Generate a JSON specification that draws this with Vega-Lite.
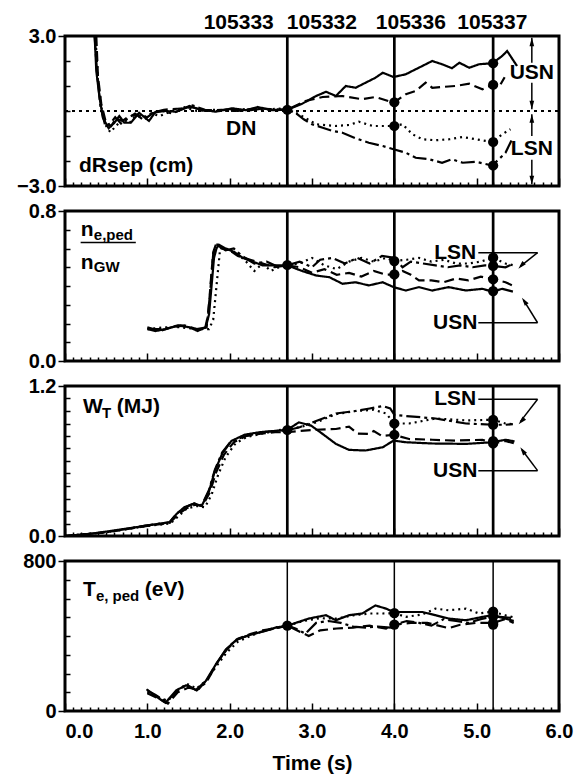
{
"$schema":"https://vega.github.io/schema/vega-lite/v6.json",
"padding":{"left":15,"top":9,"right":5,"bottom":5},
"background":"white",
"config":{"view":{"stroke":"black","strokeWidth":3},"font":"Liberation Sans",
"axis":{"labelFont":"Liberation Sans","labelFontWeight":"bold","labelFontSize":20,"labelColor":"black","tickColor":"black","tickWidth":1.5,"domain":false,"grid":false,"titleFont":"Liberation Sans","titleFontWeight":"bold","titleFontSize":21,"titleColor":"black","labelOverlap":false,"labelBound":false,"labelFlush":false}},
"bounds":"flush","spacing":25,
"vconcat":[
{"width":494,"height":150,
"encoding":{"x":{"field":"t","type":"quantitative","scale":{"domain":[0,6],"nice":false},"axis":{"values":[0,0.1,0.2,0.3,0.4,0.5,0.6,0.7,0.8,0.9,1,1.1,1.2,1.3,1.4,1.5,1.6,1.7,1.8,1.9,2,2.1,2.2,2.3,2.4,2.5,2.6,2.7,2.8,2.9,3,3.1,3.2,3.3,3.4,3.5,3.6,3.7,3.8,3.9,4,4.1,4.2,4.3,4.4,4.5,4.6,4.7,4.8,4.9,5,5.1,5.2,5.3,5.4,5.5,5.6,5.7,5.8,5.9,6],"labels":false,"title":null,"tickSize":{"condition":{"test":"abs(datum.value-round(datum.value))<0.01","value":-8},"value":-4}}},
"y":{"field":"v","type":"quantitative","scale":{"domain":[-3,3],"nice":false},"axis":{"values":[-3,-2,-1,0,1,2,3],"title":null,"labelPadding":2,"labelExpr":"datum.value==3?'3.0':datum.value==-3?'−3.0':''","tickSize":{"condition":{"test":"abs(datum.value)>2.99","value":7},"value":-5}}}},
"layer":[
{"data":{"values":[{"t":0,"v":0,"t2":6}]},"mark":{"type":"rule","strokeWidth":2,"strokeDash":[3,4],"color":"black"},"encoding":{"x2":{"field":"t2"}}},
{"data":{"values":[
{"s":"A","t":0.36,"v":3.0},{"s":"A","t":0.38,"v":1.6},{"s":"A","t":0.42,"v":0.53},{"s":"A","t":0.46,"v":-0.27},{"s":"A","t":0.53,"v":-0.69},{"s":"A","t":0.60,"v":-0.47},{"s":"A","t":0.66,"v":-0.2},{"s":"A","t":0.72,"v":-0.47},{"s":"A","t":0.80,"v":-0.47},{"s":"A","t":0.90,"v":-0.07},{"s":"A","t":1.02,"v":-0.4},{"s":"A","t":1.10,"v":-0.03},{"s":"A","t":1.22,"v":0.0},{"s":"A","t":1.35,"v":-0.03},{"s":"A","t":1.51,"v":0.2},{"s":"A","t":1.63,"v":0.07},{"s":"A","t":1.83,"v":-0.03},{"s":"A","t":2.03,"v":0.11},{"s":"A","t":2.2,"v":0.03},{"s":"A","t":2.34,"v":0.16},{"s":"A","t":2.52,"v":0.03},{"s":"A","t":2.7,"v":0.05},{"s":"A","t":2.88,"v":0.29},{"s":"A","t":3.05,"v":0.6},{"s":"A","t":3.17,"v":0.77},{"s":"A","t":3.29,"v":0.6},{"s":"A","t":3.41,"v":1.0},{"s":"A","t":3.53,"v":0.93},{"s":"A","t":3.65,"v":1.13},{"s":"A","t":3.77,"v":1.33},{"s":"A","t":3.86,"v":1.53},{"s":"A","t":3.99,"v":1.36},{"s":"A","t":4.14,"v":1.47},{"s":"A","t":4.26,"v":1.67},{"s":"A","t":4.34,"v":1.8},{"s":"A","t":4.46,"v":2.0},{"s":"A","t":4.58,"v":1.87},{"s":"A","t":4.70,"v":1.71},{"s":"A","t":4.79,"v":1.93},{"s":"A","t":4.91,"v":1.73},{"s":"A","t":5.03,"v":1.87},{"s":"A","t":5.19,"v":1.91},{"s":"A","t":5.31,"v":2.2},{"s":"A","t":5.37,"v":2.4},{"s":"A","t":5.45,"v":2.0},{"s":"A","t":5.49,"v":1.8},
{"s":"B","t":0.38,"v":3.0},{"s":"B","t":0.40,"v":1.4},{"s":"B","t":0.44,"v":0.3},{"s":"B","t":0.50,"v":-0.5},{"s":"B","t":0.56,"v":-0.6},{"s":"B","t":0.62,"v":-0.3},{"s":"B","t":0.70,"v":-0.4},{"s":"B","t":0.78,"v":-0.2},{"s":"B","t":0.88,"v":-0.15},{"s":"B","t":0.98,"v":-0.3},{"s":"B","t":1.08,"v":-0.05},{"s":"B","t":1.2,"v":0.05},{"s":"B","t":1.4,"v":0.1},{"s":"B","t":1.55,"v":0.15},{"s":"B","t":1.7,"v":0.0},{"s":"B","t":1.9,"v":0.05},{"s":"B","t":2.1,"v":0.0},{"s":"B","t":2.3,"v":0.1},{"s":"B","t":2.5,"v":0.08},{"s":"B","t":2.7,"v":0.05},{"s":"B","t":2.92,"v":0.4},{"s":"B","t":3.13,"v":0.56},{"s":"B","t":3.37,"v":0.6},{"s":"B","t":3.61,"v":0.47},{"s":"B","t":3.77,"v":0.56},{"s":"B","t":3.99,"v":0.33},{"s":"B","t":4.14,"v":0.67},{"s":"B","t":4.26,"v":0.8},{"s":"B","t":4.38,"v":1.13},{"s":"B","t":4.46,"v":0.93},{"s":"B","t":4.58,"v":0.96},{"s":"B","t":4.74,"v":1.0},{"s":"B","t":4.91,"v":1.09},{"s":"B","t":5.07,"v":0.87},{"s":"B","t":5.19,"v":1.05},{"s":"B","t":5.27,"v":0.95},{"s":"B","t":5.34,"v":1.35},
{"s":"C","t":0.37,"v":3.0},{"s":"C","t":0.40,"v":1.2},{"s":"C","t":0.45,"v":0.0},{"s":"C","t":0.50,"v":-0.6},{"s":"C","t":0.55,"v":-0.85},{"s":"C","t":0.62,"v":-0.6},{"s":"C","t":0.70,"v":-0.3},{"s":"C","t":0.78,"v":-0.5},{"s":"C","t":0.85,"v":-0.2},{"s":"C","t":0.95,"v":-0.25},{"s":"C","t":1.05,"v":-0.1},{"s":"C","t":1.15,"v":-0.2},{"s":"C","t":1.3,"v":0.0},{"s":"C","t":1.45,"v":0.15},{"s":"C","t":1.6,"v":0.0},{"s":"C","t":1.8,"v":0.05},{"s":"C","t":2.0,"v":0.0},{"s":"C","t":2.2,"v":0.08},{"s":"C","t":2.4,"v":0.05},{"s":"C","t":2.6,"v":0.1},{"s":"C","t":2.7,"v":0.05},{"s":"C","t":2.84,"v":-0.13},{"s":"C","t":3.05,"v":-0.53},{"s":"C","t":3.29,"v":-0.6},{"s":"C","t":3.45,"v":-0.56},{"s":"C","t":3.57,"v":-0.43},{"s":"C","t":3.74,"v":-0.6},{"s":"C","t":3.9,"v":-0.6},{"s":"C","t":4.0,"v":-0.6},{"s":"C","t":4.10,"v":-0.53},{"s":"C","t":4.22,"v":-0.93},{"s":"C","t":4.34,"v":-1.13},{"s":"C","t":4.5,"v":-1.17},{"s":"C","t":4.67,"v":-1.13},{"s":"C","t":4.83,"v":-1.04},{"s":"C","t":4.99,"v":-1.13},{"s":"C","t":5.19,"v":-1.24},{"s":"C","t":5.31,"v":-0.93},{"s":"C","t":5.41,"v":-0.73},
{"s":"D","t":0.36,"v":3.0},{"s":"D","t":0.39,"v":1.5},{"s":"D","t":0.43,"v":0.2},{"s":"D","t":0.49,"v":-0.6},{"s":"D","t":0.55,"v":-0.5},{"s":"D","t":0.61,"v":-0.25},{"s":"D","t":0.68,"v":-0.5},{"s":"D","t":0.76,"v":-0.3},{"s":"D","t":0.85,"v":-0.1},{"s":"D","t":0.95,"v":-0.35},{"s":"D","t":1.05,"v":-0.1},{"s":"D","t":1.18,"v":0.0},{"s":"D","t":1.3,"v":-0.1},{"s":"D","t":1.45,"v":0.1},{"s":"D","t":1.55,"v":0.22},{"s":"D","t":1.7,"v":0.05},{"s":"D","t":1.85,"v":0.0},{"s":"D","t":2.0,"v":0.08},{"s":"D","t":2.2,"v":0.0},{"s":"D","t":2.4,"v":0.1},{"s":"D","t":2.55,"v":0.05},{"s":"D","t":2.7,"v":0.05},{"s":"D","t":2.80,"v":-0.07},{"s":"D","t":2.9,"v":-0.33},{"s":"D","t":3.0,"v":-0.53},{"s":"D","t":3.13,"v":-0.67},{"s":"D","t":3.25,"v":-0.8},{"s":"D","t":3.37,"v":-0.87},{"s":"D","t":3.53,"v":-1.09},{"s":"D","t":3.69,"v":-1.27},{"s":"D","t":3.86,"v":-1.4},{"s":"D","t":3.99,"v":-1.53},{"s":"D","t":4.14,"v":-1.67},{"s":"D","t":4.26,"v":-1.87},{"s":"D","t":4.42,"v":-1.93},{"s":"D","t":4.58,"v":-2.07},{"s":"D","t":4.70,"v":-1.93},{"s":"D","t":4.83,"v":-2.07},{"s":"D","t":4.99,"v":-2.03},{"s":"D","t":5.19,"v":-2.18},{"s":"D","t":5.31,"v":-1.8},{"s":"D","t":5.35,"v":-1.67},{"s":"D","t":5.43,"v":-1.13}
]},"mark":{"type":"line","strokeWidth":2.2,"color":"black"},"encoding":{"strokeDash":{"field":"s","type":"nominal","scale":{"domain":["A","B","C","D"],"range":[[1,0],[10,5],[2,4],[14,4,3,4]]},"legend":null}}},
{"data":{"values":[{"t":2.7,"v":-3,"v2":3},{"t":4.0,"v":-3,"v2":3},{"t":5.2,"v":-3,"v2":3}]},"mark":{"type":"rule","strokeWidth":2.7,"color":"black"},"encoding":{"y2":{"field":"v2"}}},
{"data":{"values":[{"t":2.7,"v":0.05},{"t":4.0,"v":0.35},{"t":4.0,"v":-0.6},{"t":5.2,"v":1.91},{"t":5.2,"v":1.05},{"t":5.2,"v":-1.24},{"t":5.2,"v":-2.18}]},"mark":{"type":"point","filled":true,"size":105,"color":"black","opacity":1}},
{"data":{"values":[{"t":5.67,"v":2.93,"t2":5.67,"v2":1.93},{"t":5.67,"v":1.13,"t2":5.67,"v2":0.07},{"t":5.67,"v":-0.13,"t2":5.67,"v2":-1.0},{"t":5.67,"v":-1.95,"t2":5.67,"v2":-2.93}]},"mark":{"type":"rule","strokeWidth":1.5,"color":"black"},"encoding":{"x2":{"field":"t2"},"y2":{"field":"v2"}}},
{"data":{"values":[{"t":5.67,"v":2.72,"dir":"up"},{"t":5.67,"v":0.28,"dir":"down"},{"t":5.67,"v":-0.34,"dir":"up"},{"t":5.67,"v":-2.72,"dir":"down"}]},"mark":{"type":"point","filled":true,"size":110,"color":"black","opacity":1},"encoding":{"shape":{"field":"dir","type":"nominal","scale":{"domain":["up","down","dl","ul"],"range":["M0,-1L0.45,0.6L-0.45,0.6Z","M0,1L0.45,-0.6L-0.45,-0.6Z","M-0.68,0.73L0.08,-0.75L0.74,-0.13Z","M-0.57,-0.82L0.71,0.24L-0.03,0.75Z"]},"legend":null}}},
{"data":{"values":[{"label":"105333","t":2.11,"v":3.54},{"label":"105332","t":3.12,"v":3.54},{"label":"105336","t":4.2,"v":3.54},{"label":"105337","t":5.19,"v":3.54},{"label":"DN","t":2.14,"v":-0.72},{"label":"USN","t":5.67,"v":1.53},{"label":"LSN","t":5.67,"v":-1.5}]},"mark":{"type":"text","align":"center","baseline":"middle","fontSize":21,"fontWeight":"bold","font":"Liberation Sans","color":"black"},"encoding":{"text":{"field":"label"}}},
{"data":{"values":[{"label":"dRsep (cm)","t":0.17,"v":-2.44}]},"mark":{"type":"text","align":"left","baseline":"alphabetic","fontSize":21,"fontWeight":"bold","font":"Liberation Sans","color":"black"},"encoding":{"text":{"field":"label"}}}
]},
{"width":494,"height":150,
"encoding":{"x":{"field":"t","type":"quantitative","scale":{"domain":[0,6],"nice":false},"axis":{"values":[0,0.1,0.2,0.3,0.4,0.5,0.6,0.7,0.8,0.9,1,1.1,1.2,1.3,1.4,1.5,1.6,1.7,1.8,1.9,2,2.1,2.2,2.3,2.4,2.5,2.6,2.7,2.8,2.9,3,3.1,3.2,3.3,3.4,3.5,3.6,3.7,3.8,3.9,4,4.1,4.2,4.3,4.4,4.5,4.6,4.7,4.8,4.9,5,5.1,5.2,5.3,5.4,5.5,5.6,5.7,5.8,5.9,6],"labels":false,"title":null,"tickSize":{"condition":{"test":"abs(datum.value-round(datum.value))<0.01","value":-8},"value":-4}}},
"y":{"field":"v","type":"quantitative","scale":{"domain":[0,0.8],"nice":false},"axis":{"values":[0,0.1,0.2,0.3,0.4,0.5,0.6,0.7,0.8],"title":null,"labelPadding":2,"labelExpr":"datum.value>0.79?'0.8':datum.value<0.01?'0.0':''","tickSize":{"condition":{"test":"datum.value>0.79||datum.value<0.01","value":7},"value":-5}}}},
"layer":[
{"data":{"values":[
{"s":"A","t":1.01,"v":0.17},{"s":"A","t":1.10,"v":0.16},{"s":"A","t":1.22,"v":0.17},{"s":"A","t":1.37,"v":0.19},{"s":"A","t":1.51,"v":0.18},{"s":"A","t":1.61,"v":0.16},{"s":"A","t":1.71,"v":0.18},{"s":"A","t":1.75,"v":0.25},{"s":"A","t":1.78,"v":0.40},{"s":"A","t":1.81,"v":0.55},{"s":"A","t":1.84,"v":0.60},{"s":"A","t":1.87,"v":0.62},{"s":"A","t":1.95,"v":0.60},{"s":"A","t":2.06,"v":0.58},{"s":"A","t":2.16,"v":0.55},{"s":"A","t":2.28,"v":0.53},{"s":"A","t":2.40,"v":0.51},{"s":"A","t":2.52,"v":0.51},{"s":"A","t":2.70,"v":0.51},{"s":"A","t":2.88,"v":0.48},{"s":"A","t":3.05,"v":0.456},{"s":"A","t":3.21,"v":0.447},{"s":"A","t":3.37,"v":0.412},{"s":"A","t":3.53,"v":0.42},{"s":"A","t":3.69,"v":0.403},{"s":"A","t":3.86,"v":0.42},{"s":"A","t":3.99,"v":0.394},{"s":"A","t":4.14,"v":0.376},{"s":"A","t":4.30,"v":0.394},{"s":"A","t":4.46,"v":0.376},{"s":"A","t":4.66,"v":0.394},{"s":"A","t":4.87,"v":0.376},{"s":"A","t":5.07,"v":0.385},{"s":"A","t":5.19,"v":0.37},{"s":"A","t":5.31,"v":0.385},{"s":"A","t":5.44,"v":0.37},
{"s":"B","t":1.0,"v":0.18},{"s":"B","t":1.15,"v":0.16},{"s":"B","t":1.3,"v":0.18},{"s":"B","t":1.45,"v":0.19},{"s":"B","t":1.6,"v":0.17},{"s":"B","t":1.7,"v":0.17},{"s":"B","t":1.74,"v":0.25},{"s":"B","t":1.77,"v":0.42},{"s":"B","t":1.80,"v":0.58},{"s":"B","t":1.84,"v":0.63},{"s":"B","t":1.9,"v":0.60},{"s":"B","t":2.0,"v":0.59},{"s":"B","t":2.1,"v":0.56},{"s":"B","t":2.25,"v":0.54},{"s":"B","t":2.4,"v":0.52},{"s":"B","t":2.55,"v":0.50},{"s":"B","t":2.7,"v":0.51},{"s":"B","t":2.85,"v":0.50},{"s":"B","t":3.0,"v":0.47},{"s":"B","t":3.15,"v":0.49},{"s":"B","t":3.3,"v":0.46},{"s":"B","t":3.45,"v":0.47},{"s":"B","t":3.6,"v":0.45},{"s":"B","t":3.75,"v":0.48},{"s":"B","t":3.9,"v":0.46},{"s":"B","t":4.0,"v":0.462},{"s":"B","t":4.1,"v":0.48},{"s":"B","t":4.2,"v":0.46},{"s":"B","t":4.3,"v":0.43},{"s":"B","t":4.45,"v":0.43},{"s":"B","t":4.6,"v":0.42},{"s":"B","t":4.75,"v":0.44},{"s":"B","t":4.9,"v":0.43},{"s":"B","t":5.05,"v":0.45},{"s":"B","t":5.2,"v":0.436},{"s":"B","t":5.35,"v":0.42},{"s":"B","t":5.45,"v":0.40},
{"s":"C","t":1.0,"v":0.17},{"s":"C","t":1.2,"v":0.18},{"s":"C","t":1.4,"v":0.18},{"s":"C","t":1.6,"v":0.17},{"s":"C","t":1.75,"v":0.17},{"s":"C","t":1.80,"v":0.22},{"s":"C","t":1.84,"v":0.40},{"s":"C","t":1.88,"v":0.58},{"s":"C","t":1.92,"v":0.61},{"s":"C","t":2.0,"v":0.59},{"s":"C","t":2.1,"v":0.57},{"s":"C","t":2.2,"v":0.53},{"s":"C","t":2.3,"v":0.48},{"s":"C","t":2.4,"v":0.52},{"s":"C","t":2.5,"v":0.48},{"s":"C","t":2.6,"v":0.50},{"s":"C","t":2.7,"v":0.51},{"s":"C","t":2.85,"v":0.52},{"s":"C","t":3.0,"v":0.55},{"s":"C","t":3.15,"v":0.51},{"s":"C","t":3.3,"v":0.49},{"s":"C","t":3.45,"v":0.53},{"s":"C","t":3.6,"v":0.55},{"s":"C","t":3.75,"v":0.53},{"s":"C","t":3.9,"v":0.55},{"s":"C","t":4.0,"v":0.533},{"s":"C","t":4.15,"v":0.54},{"s":"C","t":4.3,"v":0.55},{"s":"C","t":4.45,"v":0.53},{"s":"C","t":4.6,"v":0.54},{"s":"C","t":4.75,"v":0.52},{"s":"C","t":4.9,"v":0.52},{"s":"C","t":5.05,"v":0.53},{"s":"C","t":5.2,"v":0.551},{"s":"C","t":5.35,"v":0.52},{"s":"C","t":5.45,"v":0.51},
{"s":"D","t":1.0,"v":0.17},{"s":"D","t":1.2,"v":0.17},{"s":"D","t":1.4,"v":0.19},{"s":"D","t":1.6,"v":0.17},{"s":"D","t":1.72,"v":0.18},{"s":"D","t":1.76,"v":0.35},{"s":"D","t":1.80,"v":0.57},{"s":"D","t":1.85,"v":0.62},{"s":"D","t":1.95,"v":0.59},{"s":"D","t":2.05,"v":0.60},{"s":"D","t":2.15,"v":0.56},{"s":"D","t":2.3,"v":0.52},{"s":"D","t":2.45,"v":0.53},{"s":"D","t":2.6,"v":0.50},{"s":"D","t":2.7,"v":0.51},{"s":"D","t":2.85,"v":0.53},{"s":"D","t":3.0,"v":0.50},{"s":"D","t":3.1,"v":0.54},{"s":"D","t":3.25,"v":0.55},{"s":"D","t":3.4,"v":0.52},{"s":"D","t":3.55,"v":0.55},{"s":"D","t":3.7,"v":0.52},{"s":"D","t":3.85,"v":0.56},{"s":"D","t":4.0,"v":0.55},{"s":"D","t":4.1,"v":0.50},{"s":"D","t":4.2,"v":0.53},{"s":"D","t":4.35,"v":0.52},{"s":"D","t":4.5,"v":0.51},{"s":"D","t":4.65,"v":0.50},{"s":"D","t":4.8,"v":0.51},{"s":"D","t":4.95,"v":0.50},{"s":"D","t":5.1,"v":0.51},{"s":"D","t":5.2,"v":0.507},{"s":"D","t":5.35,"v":0.50},{"s":"D","t":5.45,"v":0.52}
]},"mark":{"type":"line","strokeWidth":2.2,"color":"black"},"encoding":{"strokeDash":{"field":"s","type":"nominal","scale":{"domain":["A","B","C","D"],"range":[[1,0],[10,5],[2,4],[14,4,3,4]]},"legend":null}}},
{"data":{"values":[{"t":2.7,"v":0,"v2":0.8},{"t":4.0,"v":0,"v2":0.8},{"t":5.2,"v":0,"v2":0.8}]},"mark":{"type":"rule","strokeWidth":2.7,"color":"black"},"encoding":{"y2":{"field":"v2"}}},
{"data":{"values":[{"t":2.7,"v":0.512},{"t":4.0,"v":0.533},{"t":4.0,"v":0.462},{"t":5.2,"v":0.551},{"t":5.2,"v":0.507},{"t":5.2,"v":0.436},{"t":5.2,"v":0.373}]},"mark":{"type":"point","filled":true,"size":105,"color":"black","opacity":1}},
{"data":{"values":[{"t":5.02,"v":0.578,"t2":5.74,"v2":0.578},{"t":5.74,"v":0.578,"t2":5.53,"v2":0.505},{"t":5.02,"v":0.204,"t2":5.74,"v2":0.204},{"t":5.74,"v":0.204,"t2":5.57,"v2":0.325},{"t":0.19,"v":0.632,"t2":0.86,"v2":0.632}]},"mark":{"type":"rule","strokeWidth":1.5,"color":"black"},"encoding":{"x2":{"field":"t2"},"y2":{"field":"v2"}}},
{"data":{"values":[{"t":5.55,"v":0.512,"dir":"dl"},{"t":5.586,"v":0.315,"dir":"ul"}]},"mark":{"type":"point","filled":true,"size":110,"color":"black","opacity":1},"encoding":{"shape":{"field":"dir","type":"nominal","scale":{"domain":["up","down","dl","ul"],"range":["M0,-1L0.45,0.6L-0.45,0.6Z","M0,1L0.45,-0.6L-0.45,-0.6Z","M-0.68,0.73L0.08,-0.75L0.74,-0.13Z","M-0.57,-0.82L0.71,0.24L-0.03,0.75Z"]},"legend":null}}},
{"data":{"values":[{"label":"LSN","t":4.74,"v":0.578},{"label":"USN","t":4.74,"v":0.204}]},"mark":{"type":"text","align":"center","baseline":"middle","fontSize":21,"fontWeight":"bold","font":"Liberation Sans","color":"black"},"encoding":{"text":{"field":"label"}}},
{"data":{"values":[{"label":"n","t":0.19,"v":0.665},{"label":"n","t":0.19,"v":0.49}]},"mark":{"type":"text","align":"left","baseline":"alphabetic","fontSize":21,"fontWeight":"bold","font":"Liberation Sans","color":"black"},"encoding":{"text":{"field":"label"}}},
{"data":{"values":[{"label":"e,ped","t":0.35,"v":0.648},{"label":"GW","t":0.35,"v":0.475}]},"mark":{"type":"text","align":"left","baseline":"alphabetic","fontSize":15,"fontWeight":"bold","font":"Liberation Sans","color":"black"},"encoding":{"text":{"field":"label"}}}
]},
{"width":494,"height":150,
"encoding":{"x":{"field":"t","type":"quantitative","scale":{"domain":[0,6],"nice":false},"axis":{"values":[0,0.1,0.2,0.3,0.4,0.5,0.6,0.7,0.8,0.9,1,1.1,1.2,1.3,1.4,1.5,1.6,1.7,1.8,1.9,2,2.1,2.2,2.3,2.4,2.5,2.6,2.7,2.8,2.9,3,3.1,3.2,3.3,3.4,3.5,3.6,3.7,3.8,3.9,4,4.1,4.2,4.3,4.4,4.5,4.6,4.7,4.8,4.9,5,5.1,5.2,5.3,5.4,5.5,5.6,5.7,5.8,5.9,6],"labels":false,"title":null,"tickSize":{"condition":{"test":"abs(datum.value-round(datum.value))<0.01","value":-8},"value":-4}}},
"y":{"field":"v","type":"quantitative","scale":{"domain":[0,1.2],"nice":false},"axis":{"values":[0,0.1,0.2,0.3,0.4,0.5,0.6,0.7,0.8,0.9,1.0,1.1,1.2],"title":null,"labelPadding":2,"labelExpr":"datum.value>1.19?'1.2':datum.value<0.01?'0.0':''","tickSize":{"condition":{"test":"datum.value>1.19||datum.value<0.01","value":7},"value":-5}}}},
"layer":[
{"data":{"values":[
{"s":"A","t":0.0,"v":0.0},{"s":"A","t":0.33,"v":0.019},{"s":"A","t":0.55,"v":0.04},{"s":"A","t":0.82,"v":0.066},{"s":"A","t":1.0,"v":0.085},{"s":"A","t":1.27,"v":0.11},{"s":"A","t":1.36,"v":0.18},{"s":"A","t":1.45,"v":0.23},{"s":"A","t":1.57,"v":0.26},{"s":"A","t":1.66,"v":0.24},{"s":"A","t":1.75,"v":0.36},{"s":"A","t":1.82,"v":0.52},{"s":"A","t":1.91,"v":0.66},{"s":"A","t":2.02,"v":0.76},{"s":"A","t":2.18,"v":0.81},{"s":"A","t":2.36,"v":0.83},{"s":"A","t":2.54,"v":0.84},{"s":"A","t":2.70,"v":0.85},{"s":"A","t":2.84,"v":0.909},{"s":"A","t":2.99,"v":0.883},{"s":"A","t":3.13,"v":0.816},{"s":"A","t":3.29,"v":0.737},{"s":"A","t":3.45,"v":0.689},{"s":"A","t":3.65,"v":0.684},{"s":"A","t":3.86,"v":0.71},{"s":"A","t":3.99,"v":0.763},{"s":"A","t":4.14,"v":0.75},{"s":"A","t":4.46,"v":0.74},{"s":"A","t":4.87,"v":0.737},{"s":"A","t":5.19,"v":0.75},{"s":"A","t":5.35,"v":0.77},{"s":"A","t":5.46,"v":0.757},
{"s":"B","t":0.0,"v":0.0},{"s":"B","t":0.5,"v":0.03},{"s":"B","t":1.0,"v":0.08},{"s":"B","t":1.27,"v":0.105},{"s":"B","t":1.37,"v":0.17},{"s":"B","t":1.47,"v":0.22},{"s":"B","t":1.58,"v":0.25},{"s":"B","t":1.67,"v":0.24},{"s":"B","t":1.76,"v":0.35},{"s":"B","t":1.83,"v":0.50},{"s":"B","t":1.93,"v":0.65},{"s":"B","t":2.05,"v":0.75},{"s":"B","t":2.2,"v":0.80},{"s":"B","t":2.4,"v":0.82},{"s":"B","t":2.55,"v":0.83},{"s":"B","t":2.7,"v":0.83},{"s":"B","t":2.85,"v":0.84},{"s":"B","t":3.05,"v":0.85},{"s":"B","t":3.29,"v":0.856},{"s":"B","t":3.45,"v":0.875},{"s":"B","t":3.55,"v":0.82},{"s":"B","t":3.69,"v":0.816},{"s":"B","t":3.75,"v":0.84},{"s":"B","t":3.85,"v":0.80},{"s":"B","t":3.99,"v":0.81},{"s":"B","t":4.18,"v":0.776},{"s":"B","t":4.46,"v":0.77},{"s":"B","t":4.74,"v":0.763},{"s":"B","t":5.07,"v":0.77},{"s":"B","t":5.2,"v":0.74},{"s":"B","t":5.35,"v":0.76},{"s":"B","t":5.46,"v":0.74},
{"s":"C","t":0.0,"v":0.0},{"s":"C","t":0.5,"v":0.03},{"s":"C","t":1.0,"v":0.08},{"s":"C","t":1.28,"v":0.10},{"s":"C","t":1.38,"v":0.16},{"s":"C","t":1.48,"v":0.22},{"s":"C","t":1.6,"v":0.24},{"s":"C","t":1.7,"v":0.23},{"s":"C","t":1.78,"v":0.33},{"s":"C","t":1.86,"v":0.49},{"s":"C","t":1.95,"v":0.63},{"s":"C","t":2.07,"v":0.74},{"s":"C","t":2.2,"v":0.79},{"s":"C","t":2.4,"v":0.82},{"s":"C","t":2.55,"v":0.84},{"s":"C","t":2.7,"v":0.86},{"s":"C","t":2.85,"v":0.87},{"s":"C","t":3.05,"v":0.909},{"s":"C","t":3.29,"v":0.975},{"s":"C","t":3.53,"v":1.0},{"s":"C","t":3.75,"v":1.01},{"s":"C","t":3.9,"v":0.98},{"s":"C","t":4.0,"v":0.90},{"s":"C","t":4.18,"v":0.90},{"s":"C","t":4.5,"v":0.94},{"s":"C","t":4.87,"v":0.925},{"s":"C","t":5.2,"v":0.93},{"s":"C","t":5.35,"v":0.90},{"s":"C","t":5.44,"v":0.895},
{"s":"D","t":0.0,"v":0.0},{"s":"D","t":0.5,"v":0.03},{"s":"D","t":1.0,"v":0.085},{"s":"D","t":1.27,"v":0.11},{"s":"D","t":1.36,"v":0.18},{"s":"D","t":1.46,"v":0.23},{"s":"D","t":1.57,"v":0.26},{"s":"D","t":1.66,"v":0.245},{"s":"D","t":1.75,"v":0.37},{"s":"D","t":1.82,"v":0.53},{"s":"D","t":1.91,"v":0.67},{"s":"D","t":2.02,"v":0.76},{"s":"D","t":2.2,"v":0.80},{"s":"D","t":2.4,"v":0.83},{"s":"D","t":2.55,"v":0.84},{"s":"D","t":2.7,"v":0.845},{"s":"D","t":2.85,"v":0.87},{"s":"D","t":3.05,"v":0.92},{"s":"D","t":3.29,"v":0.98},{"s":"D","t":3.53,"v":1.0},{"s":"D","t":3.7,"v":1.02},{"s":"D","t":3.86,"v":1.04},{"s":"D","t":3.95,"v":1.02},{"s":"D","t":4.0,"v":0.97},{"s":"D","t":4.14,"v":0.96},{"s":"D","t":4.5,"v":0.94},{"s":"D","t":4.87,"v":0.90},{"s":"D","t":5.2,"v":0.89},{"s":"D","t":5.35,"v":0.89},{"s":"D","t":5.44,"v":0.895}
]},"mark":{"type":"line","strokeWidth":2.2,"color":"black"},"encoding":{"strokeDash":{"field":"s","type":"nominal","scale":{"domain":["A","B","C","D"],"range":[[1,0],[10,5],[2,4],[14,4,3,4]]},"legend":null}}},
{"data":{"values":[{"t":2.7,"v":0,"v2":1.2},{"t":4.0,"v":0,"v2":1.2},{"t":5.2,"v":0,"v2":1.2}]},"mark":{"type":"rule","strokeWidth":2.7,"color":"black"},"encoding":{"y2":{"field":"v2"}}},
{"data":{"values":[{"t":2.7,"v":0.848},{"t":4.0,"v":0.90},{"t":4.0,"v":0.81},{"t":5.2,"v":0.93},{"t":5.2,"v":0.89},{"t":5.2,"v":0.76},{"t":5.2,"v":0.74}]},"mark":{"type":"point","filled":true,"size":105,"color":"black","opacity":1}},
{"data":{"values":[{"t":5.02,"v":1.094,"t2":5.74,"v2":1.094},{"t":5.74,"v":1.094,"t2":5.53,"v2":0.915},{"t":5.02,"v":0.523,"t2":5.74,"v2":0.523},{"t":5.74,"v":0.523,"t2":5.55,"v2":0.69}]},"mark":{"type":"rule","strokeWidth":1.5,"color":"black"},"encoding":{"x2":{"field":"t2"},"y2":{"field":"v2"}}},
{"data":{"values":[{"t":5.553,"v":0.925,"dir":"dl"},{"t":5.566,"v":0.676,"dir":"ul"}]},"mark":{"type":"point","filled":true,"size":110,"color":"black","opacity":1},"encoding":{"shape":{"field":"dir","type":"nominal","scale":{"domain":["up","down","dl","ul"],"range":["M0,-1L0.45,0.6L-0.45,0.6Z","M0,1L0.45,-0.6L-0.45,-0.6Z","M-0.68,0.73L0.08,-0.75L0.74,-0.13Z","M-0.57,-0.82L0.71,0.24L-0.03,0.75Z"]},"legend":null}}},
{"data":{"values":[{"label":"LSN","t":4.74,"v":1.094},{"label":"USN","t":4.74,"v":0.523}]},"mark":{"type":"text","align":"center","baseline":"middle","fontSize":21,"fontWeight":"bold","font":"Liberation Sans","color":"black"},"encoding":{"text":{"field":"label"}}},
{"data":{"values":[{"label":"W","t":0.22,"v":0.985},{"label":"(MJ)","t":0.63,"v":0.985}]},"mark":{"type":"text","align":"left","baseline":"alphabetic","fontSize":21,"fontWeight":"bold","font":"Liberation Sans","color":"black"},"encoding":{"text":{"field":"label"}}},
{"data":{"values":[{"label":"T","t":0.45,"v":0.945}]},"mark":{"type":"text","align":"left","baseline":"alphabetic","fontSize":15,"fontWeight":"bold","font":"Liberation Sans","color":"black"},"encoding":{"text":{"field":"label"}}}
]},
{"width":494,"height":150,
"encoding":{"x":{"field":"t","type":"quantitative","scale":{"domain":[0,6],"nice":false},"axis":{"values":[0,0.1,0.2,0.3,0.4,0.5,0.6,0.7,0.8,0.9,1,1.1,1.2,1.3,1.4,1.5,1.6,1.7,1.8,1.9,2,2.1,2.2,2.3,2.4,2.5,2.6,2.7,2.8,2.9,3,3.1,3.2,3.3,3.4,3.5,3.6,3.7,3.8,3.9,4,4.1,4.2,4.3,4.4,4.5,4.6,4.7,4.8,4.9,5,5.1,5.2,5.3,5.4,5.5,5.6,5.7,5.8,5.9,6],"title":"Time (s)","titlePadding":7,"labelPadding":18,"labelAlign":{"condition":{"test":"datum.value<0.01","value":"left"},"value":"center"},"labelExpr":"abs(datum.value-round(datum.value))<0.01?format(datum.value,'.1f'):''","tickSize":{"condition":{"test":"abs(datum.value-round(datum.value))<0.01","value":-8},"value":-4}}},
"y":{"field":"v","type":"quantitative","scale":{"domain":[0,800],"nice":false},"axis":{"values":[0,100,200,300,400,500,600,700,800],"title":null,"labelPadding":2,"labelExpr":"datum.value>799?'800':datum.value<1?'0':''","tickSize":{"condition":{"test":"datum.value>799||datum.value<1","value":7},"value":-5}}}},
"layer":[
{"data":{"values":[
{"s":"A","t":0.99,"v":116},{"s":"A","t":1.10,"v":79},{"s":"A","t":1.22,"v":44},{"s":"A","t":1.35,"v":110},{"s":"A","t":1.47,"v":137},{"s":"A","t":1.59,"v":112},{"s":"A","t":1.71,"v":160},{"s":"A","t":1.83,"v":247},{"s":"A","t":1.95,"v":326},{"s":"A","t":2.08,"v":379},{"s":"A","t":2.24,"v":405},{"s":"A","t":2.40,"v":423},{"s":"A","t":2.56,"v":445},{"s":"A","t":2.70,"v":455},{"s":"A","t":2.96,"v":493},{"s":"A","t":3.17,"v":511},{"s":"A","t":3.29,"v":484},{"s":"A","t":3.45,"v":511},{"s":"A","t":3.61,"v":520},{"s":"A","t":3.77,"v":563},{"s":"A","t":3.9,"v":546},{"s":"A","t":3.99,"v":528},{"s":"A","t":4.14,"v":528},{"s":"A","t":4.34,"v":528},{"s":"A","t":4.5,"v":511},{"s":"A","t":4.66,"v":493},{"s":"A","t":4.87,"v":484},{"s":"A","t":5.07,"v":502},{"s":"A","t":5.19,"v":511},{"s":"A","t":5.35,"v":493},{"s":"A","t":5.45,"v":480},
{"s":"B","t":1.0,"v":95},{"s":"B","t":1.12,"v":70},{"s":"B","t":1.25,"v":40},{"s":"B","t":1.37,"v":100},{"s":"B","t":1.5,"v":125},{"s":"B","t":1.62,"v":115},{"s":"B","t":1.73,"v":170},{"s":"B","t":1.85,"v":260},{"s":"B","t":1.97,"v":330},{"s":"B","t":2.1,"v":385},{"s":"B","t":2.25,"v":410},{"s":"B","t":2.4,"v":430},{"s":"B","t":2.55,"v":440},{"s":"B","t":2.7,"v":455},{"s":"B","t":2.96,"v":400},{"s":"B","t":3.1,"v":430},{"s":"B","t":3.3,"v":440},{"s":"B","t":3.5,"v":445},{"s":"B","t":3.7,"v":455},{"s":"B","t":3.9,"v":440},{"s":"B","t":4.0,"v":461},{"s":"B","t":4.2,"v":470},{"s":"B","t":4.4,"v":470},{"s":"B","t":4.66,"v":442},{"s":"B","t":4.8,"v":460},{"s":"B","t":5.0,"v":470},{"s":"B","t":5.2,"v":470},{"s":"B","t":5.35,"v":490},{"s":"B","t":5.45,"v":470},
{"s":"C","t":1.0,"v":100},{"s":"C","t":1.12,"v":75},{"s":"C","t":1.25,"v":55},{"s":"C","t":1.38,"v":115},{"s":"C","t":1.48,"v":145},{"s":"C","t":1.6,"v":120},{"s":"C","t":1.72,"v":165},{"s":"C","t":1.84,"v":240},{"s":"C","t":1.96,"v":310},{"s":"C","t":2.1,"v":370},{"s":"C","t":2.25,"v":400},{"s":"C","t":2.4,"v":425},{"s":"C","t":2.55,"v":445},{"s":"C","t":2.7,"v":455},{"s":"C","t":2.9,"v":480},{"s":"C","t":3.1,"v":495},{"s":"C","t":3.3,"v":493},{"s":"C","t":3.5,"v":510},{"s":"C","t":3.7,"v":520},{"s":"C","t":3.86,"v":520},{"s":"C","t":4.0,"v":522},{"s":"C","t":4.14,"v":502},{"s":"C","t":4.34,"v":515},{"s":"C","t":4.5,"v":546},{"s":"C","t":4.66,"v":537},{"s":"C","t":4.87,"v":546},{"s":"C","t":5.03,"v":520},{"s":"C","t":5.19,"v":530},{"s":"C","t":5.35,"v":510},{"s":"C","t":5.45,"v":500},
{"s":"D","t":1.0,"v":110},{"s":"D","t":1.1,"v":85},{"s":"D","t":1.23,"v":50},{"s":"D","t":1.36,"v":105},{"s":"D","t":1.48,"v":140},{"s":"D","t":1.6,"v":110},{"s":"D","t":1.72,"v":155},{"s":"D","t":1.84,"v":250},{"s":"D","t":1.96,"v":330},{"s":"D","t":2.08,"v":380},{"s":"D","t":2.24,"v":405},{"s":"D","t":2.4,"v":425},{"s":"D","t":2.56,"v":442},{"s":"D","t":2.7,"v":455},{"s":"D","t":2.8,"v":440},{"s":"D","t":2.92,"v":412},{"s":"D","t":3.05,"v":470},{"s":"D","t":3.2,"v":480},{"s":"D","t":3.35,"v":470},{"s":"D","t":3.5,"v":450},{"s":"D","t":3.65,"v":445},{"s":"D","t":3.8,"v":450},{"s":"D","t":3.95,"v":445},{"s":"D","t":4.0,"v":461},{"s":"D","t":4.15,"v":480},{"s":"D","t":4.3,"v":470},{"s":"D","t":4.45,"v":455},{"s":"D","t":4.6,"v":490},{"s":"D","t":4.75,"v":480},{"s":"D","t":4.9,"v":470},{"s":"D","t":5.05,"v":490},{"s":"D","t":5.2,"v":505},{"s":"D","t":5.35,"v":500},{"s":"D","t":5.45,"v":495}
]},"mark":{"type":"line","strokeWidth":2.2,"color":"black"},"encoding":{"strokeDash":{"field":"s","type":"nominal","scale":{"domain":["A","B","C","D"],"range":[[1,0],[10,5],[2,4],[14,4,3,4]]},"legend":null}}},
{"data":{"values":[{"t":2.7,"v":0,"v2":800},{"t":4.0,"v":0,"v2":800},{"t":5.2,"v":0,"v2":800}]},"mark":{"type":"rule","strokeWidth":1.5,"color":"black"},"encoding":{"y2":{"field":"v2"}}},
{"data":{"values":[{"t":2.7,"v":455},{"t":4.0,"v":522},{"t":4.0,"v":461},{"t":5.2,"v":530},{"t":5.2,"v":505},{"t":5.2,"v":470},{"t":5.2,"v":461}]},"mark":{"type":"point","filled":true,"size":105,"color":"black","opacity":1}},
{"data":{"values":[{"label":"T","t":0.22,"v":612},{"label":"(eV)","t":0.97,"v":612}]},"mark":{"type":"text","align":"left","baseline":"alphabetic","fontSize":21,"fontWeight":"bold","font":"Liberation Sans","color":"black"},"encoding":{"text":{"field":"label"}}},
{"data":{"values":[{"label":"e, ped","t":0.375,"v":585}]},"mark":{"type":"text","align":"left","baseline":"alphabetic","fontSize":15,"fontWeight":"bold","font":"Liberation Sans","color":"black"},"encoding":{"text":{"field":"label"}}}
]}
]}
